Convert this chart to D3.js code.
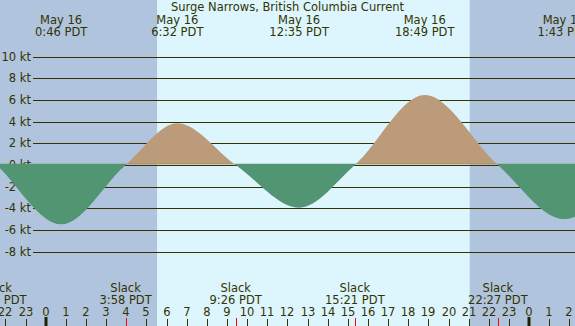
<!DOCTYPE html>
<html>
<head>
<meta charset="utf-8">
<script src="https://cdn.jsdelivr.net/npm/d3@7"></script>
<style>
  body { margin: 0; background: #fff; }
  svg text { font-family: "DejaVu Sans", sans-serif; font-size: 11.5px; fill: #333300; }
</style>
</head>
<body>
<svg id="chart"></svg>
<script>
var WIDTH = 575, HEIGHT = 326;

// hours counted from May 16 0:00 PDT
var sunHours = [-2.5, 5.53, 21.05, 29.53];           // sunrise/sunset edges
var maxHours = [-5.4, 0.767, 6.533, 12.583, 18.817, 25.717];
var maxValues = [5.2, -5.48, 3.85, -3.94, 6.46, -4.99];
var maxDates = ["May 15", "May 16", "May 16", "May 16", "May 16", "May 17"];
var maxTimes = ["18:36 PDT", "0:46 PDT", "6:32 PDT", "12:35 PDT", "18:49 PDT", "1:43 PDT"];
var slackHours = [-2.43, 3.967, 9.433, 15.35, 22.45, 28.9];
var slackTimes = ["21:34 PDT", "3:58 PDT", "9:26 PDT", "15:21 PDT", "22:27 PDT", "4:54 PDT"];
var ktTicks = [-8, -6, -4, -2, 0, 2, 4, 6, 8, 10];
var hourTicks = d3.range(-2, 27);

var svg = d3.select("#chart").attr("width", WIDTH).attr("height", HEIGHT);

var x = d3.scaleLinear().domain([0, 24]).range([45.7, 529.1]);
var y = d3.scaleLinear().domain([0, 10]).range([165, 56.7]);

// only labels that can be seen in the window
function visible(h) {
    return x(h) > -35 && x(h) < WIDTH + 35;
}

// Background: night / day
svg.append("rect").attr("width", WIDTH).attr("height", HEIGHT).attr("fill", "#b0c4de");
svg.append("rect")
    .attr("x", x(sunHours[1])).attr("y", 0)
    .attr("width", x(sunHours[2]) - x(sunHours[1])).attr("height", HEIGHT)
    .attr("fill", "#ddf6fe");

// Grid lines + kt labels
ktTicks.forEach(function(k) {
    svg.append("line")
        .attr("x1", 33).attr("x2", WIDTH)
        .attr("y1", Math.round(y(k)) + 0.5).attr("y2", Math.round(y(k)) + 0.5)
        .attr("stroke", "#333300").attr("stroke-width", 1);
    svg.append("text")
        .attr("x", 31).attr("y", y(k) + 4)
        .attr("text-anchor", "end")
        .text(k + " kt");
});

// Current curve through slack and max points
var points = [];
maxHours.forEach(function(h, i) { points.push([h, maxValues[i]]); });
slackHours.forEach(function(h) { points.push([h, 0]); });
points.sort(function(a, b) { return a[0] - b[0]; });

var defs = svg.append("defs");
defs.append("clipPath").attr("id", "clipFlood")
    .append("rect").attr("x", 0).attr("y", 0).attr("width", WIDTH).attr("height", y(0));
defs.append("clipPath").attr("id", "clipEbb")
    .append("rect").attr("x", 0).attr("y", y(0) - 1.5).attr("width", WIDTH).attr("height", HEIGHT);

var area = d3.area()
    .x(function(d) { return x(d[0]); })
    .y0(y(0))
    .y1(function(d) { return y(d[1]); })
    .curve(d3.curveMonotoneX);

svg.append("path").datum(points)
    .attr("d", area.y0(y(0) - 0.5))
    .attr("fill", "#bc9b7a")
    .attr("clip-path", "url(#clipFlood)");
svg.append("path").datum(points)
    .attr("d", area.y0(y(0) - 1.5))
    .attr("fill", "#529573")
    .attr("clip-path", "url(#clipEbb)");

// Title
svg.append("text")
    .attr("x", WIDTH / 2).attr("y", 11)
    .attr("text-anchor", "middle")
    .text("Surge Narrows, British Columbia Current");

// Max labels on top
maxHours.forEach(function(h, i) {
    if (!visible(h)) return;
    svg.append("text").attr("x", x(h)).attr("y", 24)
        .attr("text-anchor", "middle").text(maxDates[i]);
    svg.append("text").attr("x", x(h)).attr("y", 36)
        .attr("text-anchor", "middle").text(maxTimes[i]);
});

// Slack labels at bottom
slackHours.forEach(function(h, i) {
    if (!visible(h)) return;
    svg.append("text").attr("x", x(h)).attr("y", 291.5)
        .attr("text-anchor", "middle").text("Slack");
    svg.append("text").attr("x", x(h)).attr("y", 303.5)
        .attr("text-anchor", "middle").text(slackTimes[i]);
});

// Hour ticks
hourTicks.forEach(function(h) {
    var px = Math.round(x(h));
    svg.append("text").attr("x", px).attr("y", 315.5)
        .attr("text-anchor", "middle").text(((h % 24) + 24) % 24);
    if (h % 24 == 0) {
        svg.append("rect").attr("x", px - 1.5).attr("y", 317)
            .attr("width", 3).attr("height", 9).attr("fill", "#222200");
    } else {
        svg.append("line").attr("x1", px + 0.5).attr("x2", px + 0.5)
            .attr("y1", 319).attr("y2", HEIGHT)
            .attr("stroke", "#333300").attr("stroke-width", 1);
    }
});

// Slack ticks
slackHours.forEach(function(h) {
    var px = Math.round(x(h));
    svg.append("line").attr("x1", px + 0.5).attr("x2", px + 0.5)
        .attr("y1", 318).attr("y2", HEIGHT)
        .attr("stroke", "#ff0000").attr("stroke-width", 1);
});
</script>
</body>
</html>
